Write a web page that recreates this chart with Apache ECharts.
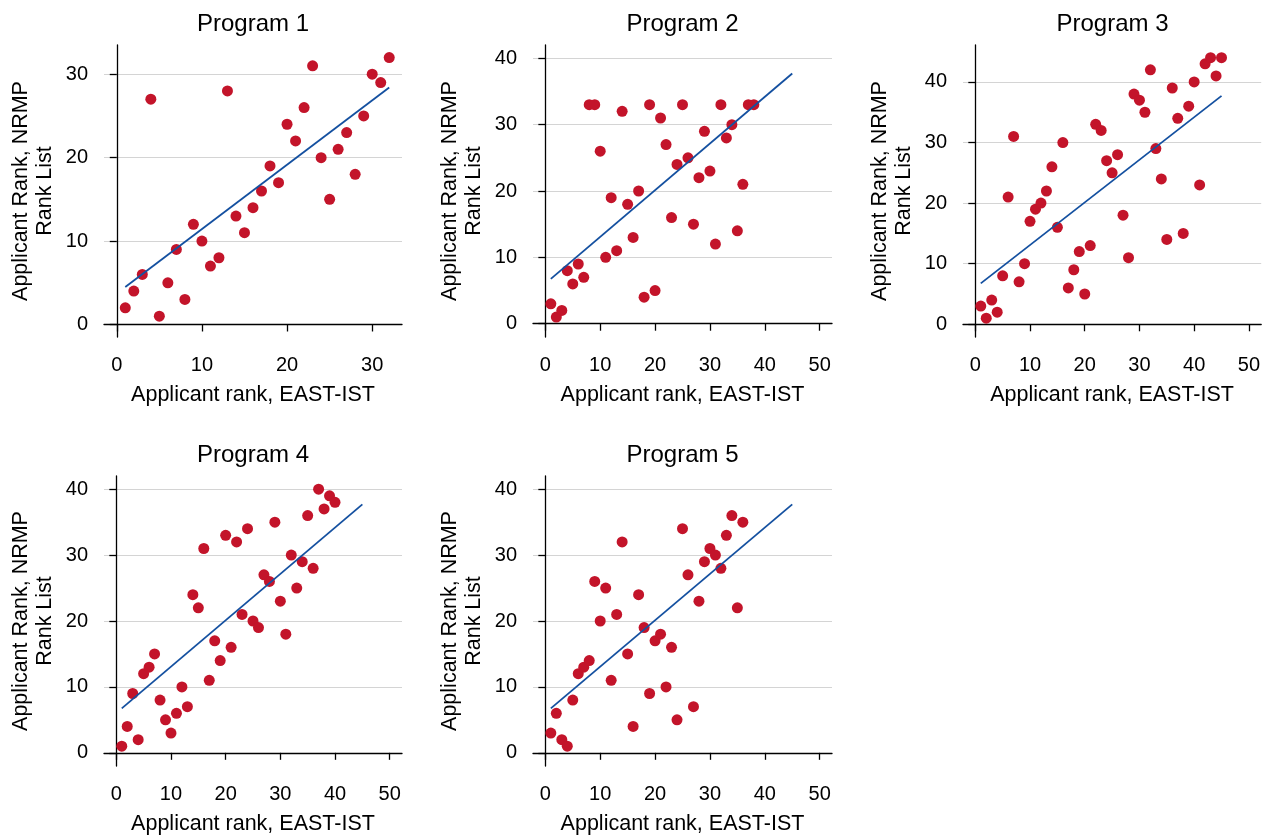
<!DOCTYPE html>
<html>
<head>
    <meta charset="utf-8">
    <title>Applicant rank scatter</title>
    <script src="https://cdn.jsdelivr.net/npm/echarts@6/dist/echarts.min.js"></script>
    <style>
        html, body { margin: 0; padding: 0; background: #fff; }
    </style>
</head>
<body>
    <div id="chart" style="width: 1263px;height:836px;"></div>
    <script type="text/javascript">
        // rank values (x = EAST-IST rank, y = NRMP rank)
        var titles = ['Program 1', 'Program 2', 'Program 3', 'Program 4', 'Program 5'];

        var p1x = [1,2,3,4,5,6,7,8,9,10,11,12,13,14,15,16,17,18,19,20,21,22,23,24,25,26,27,28,29,30,31,32];
        var p1y = [2,4,6,27,1,5,9,3,12,10,7,8,28,13,11,14,16,19,17,24,22,26,31,20,15,21,23,18,25,30,29,32];

        var p2x = [1,2,3,4,5,6,7,8,9,10,11,12,13,14,15,16,17,18,19,20,21,22,23,24,25,26,27,28,29,30,31,32,33,34,35,36,37,38];
        var p2y = [3,1,2,8,6,9,7,33,33,26,10,19,11,32,18,13,20,4,33,5,31,27,16,24,33,25,15,22,29,23,12,33,28,30,14,21,33,33];

        var p3x = [1,2,3,4,5,6,7,8,9,10,11,12,13,14,15,16,17,18,19,20,21,22,23,24,25,26,27,28,29,30,31,32,33,34,35,36,37,38,39,40,41,42,43,44,45];
        var p3y = [3,1,4,2,8,21,31,7,10,17,19,20,22,26,16,30,6,9,12,5,13,33,32,27,25,28,18,11,38,37,35,42,29,24,14,39,34,15,36,40,23,43,44,41,44];

        var p4x = [1,2,3,4,5,6,7,8,9,10,11,12,13,14,15,16,17,18,19,20,21,22,23,24,25,26,27,28,29,30,31,32,33,34,35,36,37,38,39,40];
        var p4y = [1,4,9,2,12,13,15,8,5,3,6,10,7,24,22,31,11,17,14,33,16,32,21,34,20,19,27,26,35,23,18,30,25,29,36,28,40,37,39,38];

        var p5x = [1,2,3,4,5,6,7,8,9,10,11,12,13,14,15,16,17,18,19,20,21,22,23,24,25,26,27,28,29,30,31,32,33,34,35,36];
        var p5y = [3,6,2,1,8,12,13,14,26,20,25,11,21,32,15,4,24,19,9,17,18,10,16,5,34,27,7,23,29,31,30,28,33,36,22,35];

        // fitted line end points (x0, x1, y0, y1)
        var fit1 = [1, 32, 4.5, 28.4];
        var fit2 = [1, 45, 6.75, 37.7];
        var fit3 = [1, 45, 6.75, 37.7];
        var fit4 = [1, 45, 6.75, 37.7];
        var fit5 = [1, 45, 6.75, 37.7];

        // tick labels
        var ticksP1 = [0, 10, 20, 30];
        var ticksX = [0, 10, 20, 30, 40, 50];
        var ticksY = [0, 10, 20, 30, 40];

        var xs = [p1x, p2x, p3x, p4x, p5x];
        var ys = [p1y, p2y, p3y, p4y, p5y];
        var fits = [fit1, fit2, fit3, fit4, fit5];

        var font = 'Liberation Sans, Arial, Helvetica, sans-serif';
        var dotColor = '#c3142a';
        var lineColor = '#1450a0';

        // plot boxes
        var grids = [
            { left: 104, top: 45, width: 298, height: 292 },
            { left: 533, top: 45, width: 299, height: 292 },
            { left: 963, top: 45, width: 299, height: 292 },
            { left: 104, top: 476, width: 298, height: 291 },
            { left: 533, top: 476, width: 299, height: 291 }
        ];
        var xRange = [[-1.5, 33.5], [-2.25, 52.25], [-2.25, 52.25], [-2.25, 52.25], [-2.25, 52.25]];
        var yRange = [[-1.5, 33.5], [-2, 42], [-2.1, 46.1], [-2, 42], [-2, 42]];
        var xTicks = [ticksP1, ticksX, ticksX, ticksX, ticksX];
        var yTicks = [ticksP1, ticksY, ticksY, ticksY, ticksY];

        var myChart = echarts.init(document.getElementById('chart'));

        var xAxes = [], yAxes = [], series = [], graphics = [];
        for (var i = 0; i < 5; i++) {
            xAxes.push({
                type: 'value',
                gridIndex: i,
                min: xRange[i][0],
                max: xRange[i][1],
                name: 'Applicant rank, EAST-IST',
                nameLocation: 'middle',
                nameGap: 47,
                nameTextStyle: { fontFamily: font, fontSize: 21.5, color: '#000' },
                axisLine: { lineStyle: { color: '#000', width: 1.3 } },
                axisTick: { customValues: xTicks[i], length: 7, lineStyle: { color: '#000', width: 1.3 } },
                axisLabel: { customValues: xTicks[i], margin: 18, fontFamily: font, fontSize: 20, color: '#000' },
                splitLine: { show: false }
            });
            yAxes.push({
                type: 'value',
                gridIndex: i,
                min: yRange[i][0],
                max: yRange[i][1],
                name: 'Applicant Rank, NRMP\nRank List',
                nameLocation: 'middle',
                nameGap: 47,
                nameTextStyle: { fontFamily: font, fontSize: 21.5, color: '#000', lineHeight: 24 },
                axisLine: { show: true, lineStyle: { color: '#000', width: 1.3 } },
                axisTick: { show: true, customValues: yTicks[i], length: 7, lineStyle: { color: '#000', width: 1.3 } },
                axisLabel: { customValues: yTicks[i], margin: 16, fontFamily: font, fontSize: 20, color: '#000' },
                splitLine: { show: true, lineStyle: { color: '#d4d4d4', width: 1.2 } }
            });
            var pts = xs[i].map(function (x, k) { return [x, ys[i][k]]; });
            series.push({
                type: 'scatter',
                xAxisIndex: i,
                yAxisIndex: i,
                data: pts,
                symbolSize: 11,
                itemStyle: { color: dotColor, opacity: 1 },
                silent: true,
                z: 3
            });
            var f = fits[i];
            series.push({
                type: 'line',
                xAxisIndex: i,
                yAxisIndex: i,
                data: [[f[0], f[2]], [f[1], f[3]]],
                showSymbol: false,
                lineStyle: { color: lineColor, width: 1.8 },
                silent: true,
                z: 4
            });
            var g = grids[i];
            graphics.push({
                type: 'text',
                x: g.left + g.width / 2,
                y: g.top - 21,
                style: {
                    text: titles[i],
                    fontFamily: font,
                    fontSize: 24,
                    fill: '#000',
                    align: 'center',
                    verticalAlign: 'middle'
                }
            });
        }

        var option = {
            backgroundColor: '#fff',
            animation: false,
            grid: grids,
            xAxis: xAxes,
            yAxis: yAxes,
            series: series,
            graphic: graphics
        };

        myChart.setOption(option);
    </script>
</body>
</html>
